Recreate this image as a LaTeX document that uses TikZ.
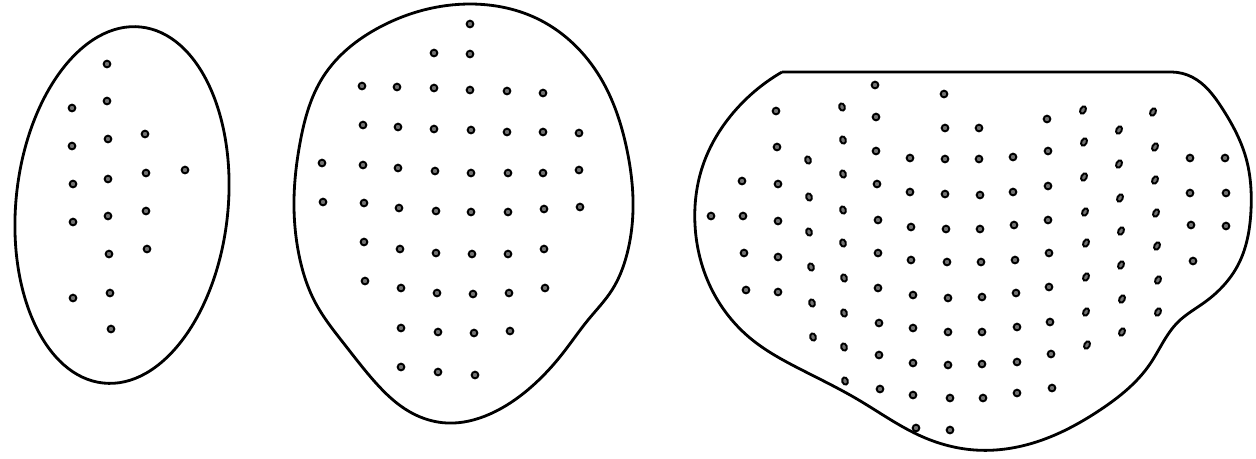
\documentclass[tikz,border=0pt]{standalone}
\usetikzlibrary{hobby}
\begin{document}
\begin{tikzpicture}[x=0.02cm,y=-0.02cm,
  outline/.style={line width=1.6pt, line join=round},
  dot/.style={fill=black!55, draw=black, line width=1.1pt}]
\useasboundingbox (0,0) rectangle (1256,458);

% left section: a slightly tilted oval
\draw[outline, rotate around={-6:(122,205)}] (122,205) ellipse[x radius=106, y radius=179];
\foreach \x/\y in {107/64,107/101,72/108,145/134,108/139,72/146,146/173,
  185/170,108/179,73/184,146/211,108/216,73/222,147/249,109/254,110/293,
  73/298,111/329}
  \draw[dot] (\x,\y) circle[radius=1.9pt];

% middle section: egg shape
\draw[outline, use Hobby shortcut, closed=true]
  (470,4) .. (540,20) .. (600,77) .. (627,150) .. (633,210) .. (627,254)
  .. (612,290) .. (588,320) .. (563,353) .. (530,388) .. (490,414)
  .. (447,423) .. (410,412) .. (375,382) .. (345,345) .. (315,302)
  .. (299,255) .. (294,200) .. (300,143) .. (323,77) .. (380,27);
\foreach \x/\y in {470/24,434/53,470/54,
  362/86,397/87,434/88,470/90,507/91,543/93,
  363/125,398/127,434/129,471/130,507/132,543/132,579/133,
  322/163,363/165,398/168,435/171,471/173,508/173,543/173,579/170,
  323/202,364/203,399/208,436/211,471/212,508/212,544/209,580/207,
  364/242,400/249,436/253,472/254,508/254,544/249,
  365/281,401/288,437/293,473/294,509/293,545/288,
  401/328,438/332,474/333,510/331,
  401/367,438/372,475/375}
  \draw[dot] (\x,\y) circle[radius=1.9pt];

% right section: flat top, rounded body
\draw[outline] (782,72) -- (1172,72)
  to[curve through={(1192,77) .. (1222,108) .. (1246,158) .. (1251,210)
    .. (1238,265) .. (1205,302) .. (1178,322) .. (1150,364) .. (1100,410)
    .. (1033,443) .. (975,450) .. (923,437) .. (857,399) .. (800,369)
    .. (750,338) .. (712,290) .. (695,225) .. (703,165) .. (733,113)}]
  (782,72);
\foreach \x/\y in {875/85,944/94,
  776/111,876/117,945/128,
  777/147,876/151,910/158,945/159,
  742/181,778/184,877/184,910/192,945/194,
  711/216,743/216,778/221,878/220,911/227,946/229,
  744/253,778/257,878/253,911/260,947/262,
  746/290,778/292,878/288,913/295,948/298,
  879/323,913/328,948/332,
  879/355,913/363,948/365,
  880/389,913/395,950/398,
  916/428,950/430,
  979/128,1047/119,
  979/159,1013/157,1048/151,1190/158,1225/158,
  980/195,1013/192,1048/186,1190/193,1226/193,
  980/229,1014/225,1048/220,1191/225,1226/226,
  981/262,1015/260,1049/253,1193/261,
  982/297,1016/293,1049/287,
  982/332,1017/327,1050/322,
  982/364,1017/362,1051/354,
  983/398,1017/393,1052/388}
  \draw[dot] (\x,\y) circle[radius=1.9pt];
% oval dots leaning back
\foreach \x/\y in {808/160,809/197,809/232,811/267,812/303,813/337,
  842/107,843/140,843/174,843/210,843/243,844/278,844/313,844/347,845/381}
  \draw[dot] (\x,\y) ellipse[x radius=1.6pt, y radius=2.1pt, rotate=20];
% oval dots leaning forward
\foreach \x/\y in {1083/110,1084/142,1084/177,1085/212,1086/243,1086/277,
  1086/312,1087/345,
  1119/130,1119/164,1120/198,1121/231,1121/265,1122/299,1122/332,
  1153/112,1155/147,1155/180,1156/213,1157/246,1158/280,1158/312}
  \draw[dot] (\x,\y) ellipse[x radius=1.5pt, y radius=2.25pt, rotate=-28];
\end{tikzpicture}
\end{document}
